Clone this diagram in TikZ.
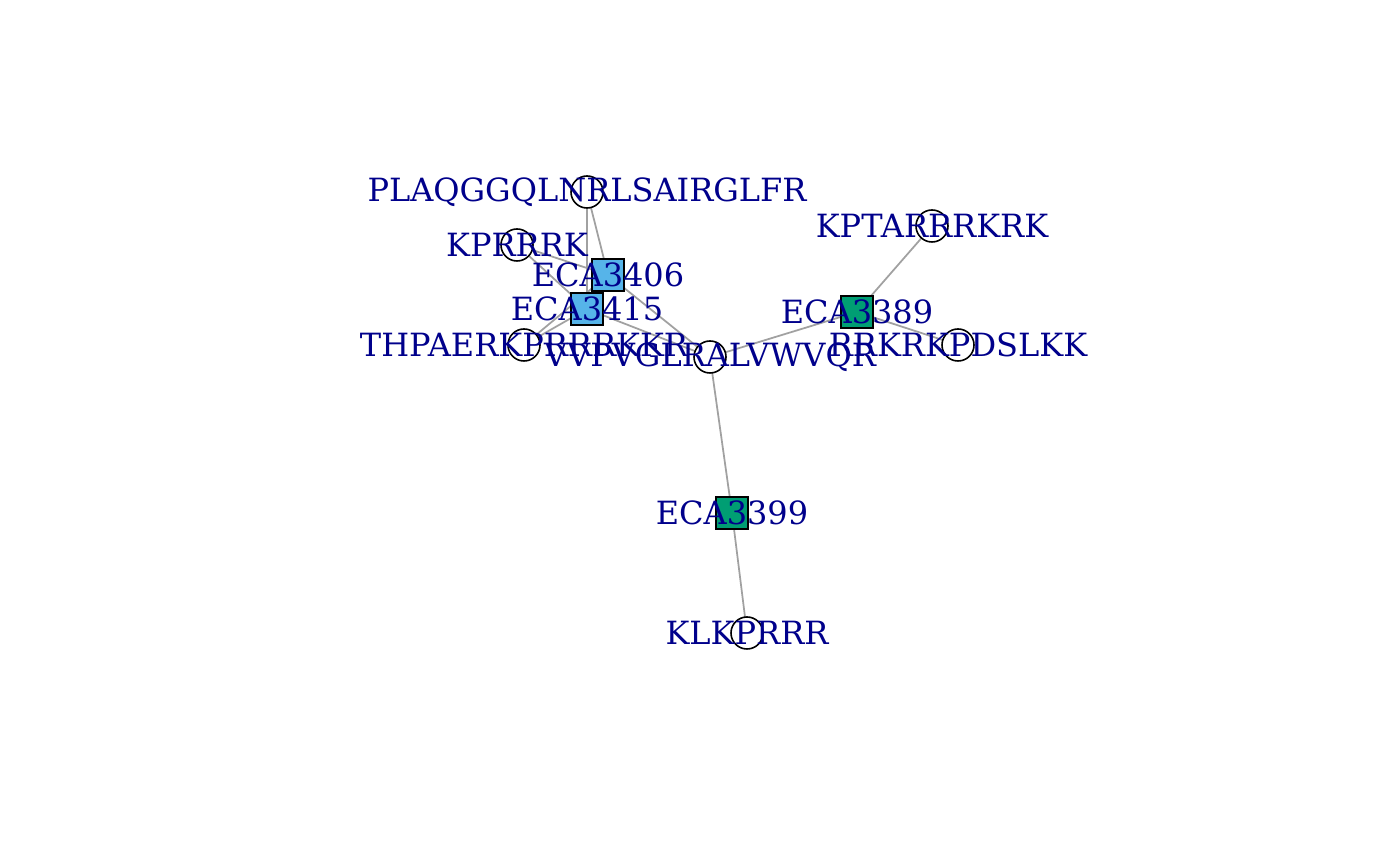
\documentclass[tikz,border=0pt]{standalone}
\usepackage{fontspec}
\setmainfont{DejaVu Serif}
\begin{document}
\begin{tikzpicture}[x=0.01cm,y=-0.01cm,
  edge/.style={draw=black!37,line width=0.5pt},
  pep/.style={circle,draw=black,fill=white,line width=0.45pt,minimum size=0.32cm,inner sep=0pt},
  prot/.style={rectangle,draw=black,line width=0.45pt,minimum size=0.32cm,inner sep=0pt},
  blueprot/.style={prot,fill=blueA},
  greenprot/.style={prot,fill=greenA},
  lab/.style={text=labcol,font=\fontsize{9.1pt}{10pt}\selectfont,inner sep=0pt,anchor=center}]
\definecolor{blueA}{HTML}{56B4E9}
\definecolor{greenA}{HTML}{009E73}
\definecolor{labcol}{HTML}{00008B}
\useasboundingbox (0,0) rectangle (1400,865);
% coordinates
\coordinate (cPLAQ) at (587,192);
\coordinate (cKPRRRK) at (517,245);
\coordinate (c3406) at (608,275);
\coordinate (c3415) at (587,309);
\coordinate (cTHP) at (524,345);
\coordinate (cVVP) at (710,357);
\coordinate (c3389) at (857,312);
\coordinate (cKPT) at (932,226);
\coordinate (cRRK) at (958,345);
\coordinate (c3399) at (732,513);
\coordinate (cKLK) at (747,633);
% edges
\draw[edge] (cPLAQ) -- (c3406);
\draw[edge] (cPLAQ) -- (c3415);
\draw[edge] (cKPRRRK) -- (c3406);
\draw[edge] (cKPRRRK) -- (c3415);
\draw[edge] (cTHP) -- (c3406);
\draw[edge] (cTHP) -- (c3415);
\draw[edge] (c3406) -- (cVVP);
\draw[edge] (c3415) -- (cVVP);
\draw[edge] (cVVP) -- (c3389);
\draw[edge] (c3389) -- (cKPT);
\draw[edge] (c3389) -- (cRRK);
\draw[edge] (cVVP) -- (c3399);
\draw[edge] (c3399) -- (cKLK);
% vertices
\node[pep] (PLAQ) at (cPLAQ) {};
\node[pep] (KPRRRK) at (cKPRRRK) {};
\node[blueprot] (E3406) at (c3406) {};
\node[blueprot] (E3415) at (c3415) {};
\node[pep] (THP) at (cTHP) {};
\node[pep] (VVP) at (cVVP) {};
\node[greenprot] (E3389) at (c3389) {};
\node[pep] (KPT) at (cKPT) {};
\node[pep] (RRK) at (cRRK) {};
\node[greenprot] (E3399) at (c3399) {};
\node[pep] (KLK) at (cKLK) {};
% labels
\node[lab] (lPLAQ) at (PLAQ) {PLAQGGQLNRLSAIRGLFR};
\node[lab] (lKPRRRK) at (KPRRRK) {KPRRRK};
\node[lab] (l3406) at (E3406) {ECA3406};
\node[lab] (l3415) at (E3415) {ECA3415};
\node[lab] (lTHP) at (THP) {THPAERKPRRRKKR};
\node[lab] (lVVP) at (VVP) {VVPVGLRALVWVQR};
\node[lab] (l3389) at (E3389) {ECA3389};
\node[lab] (lKPT) at (KPT) {KPTARRRKRK};
\node[lab] (lRRK) at (RRK) {RRKRKPDSLKK};
\node[lab] (l3399) at (E3399) {ECA3399};
\node[lab] (lKLK) at (KLK) {KLKPRRR};
\end{tikzpicture}
\end{document}
